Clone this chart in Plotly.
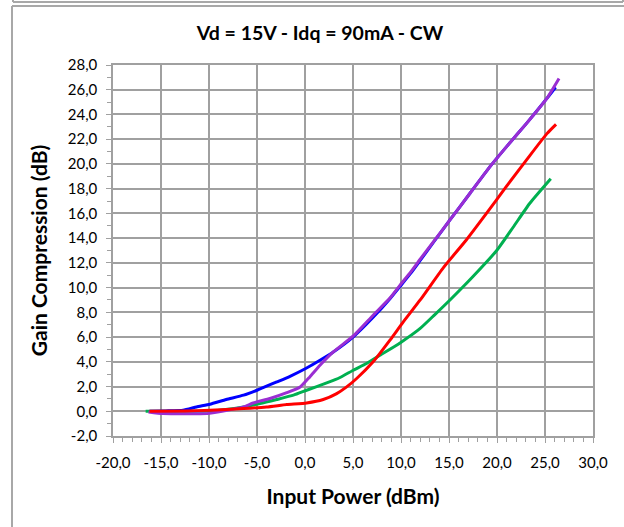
import plotly.graph_objects as go

# Gain compression vs input power, four measured curves
blue_x = [-16.2, -14.5, -12.7, -11.3, -9.9, -8.2, -6.4, -5.0, -2.95, -1.56, 0.07, 1.56, 2.95,
          5.0, 7.1, 8.85, 9.9, 11.0, 12.0, 13.37, 15.1, 17.19, 19.27, 21.0, 23.1, 25.2, 26.1]
blue_y = [0.0, 0.03, 0.08, 0.35, 0.57, 0.95, 1.3, 1.7, 2.37, 2.83, 3.46, 4.13, 4.8,
          6.0, 7.6, 9.1, 10.1, 11.15, 12.2, 13.65, 15.47, 17.63, 19.78, 21.4, 23.3, 25.3, 26.2]

purple_x = [-16.3, -14.8, -12.5, -10.2, -8.5, -6.4, -5.4, -3.65, -1.9, -0.5, 0.5, 1.56, 2.95,
            5.0, 7.1, 8.85, 9.9, 11.0, 12.0, 13.37, 15.1, 17.19, 19.27, 21.0, 23.1, 25.2, 26.46]
purple_y = [-0.05, -0.19, -0.2, -0.19, 0.02, 0.35, 0.67, 1.03, 1.5, 1.97, 2.78, 3.72, 4.8,
            6.07, 7.77, 9.15, 10.2, 11.25, 12.3, 13.7, 15.47, 17.63, 19.78, 21.4, 23.3, 25.3, 26.9]

red_x = [-16.2, -12.5, -9.9, -6.4, -4.0, -1.9, 0.17, 1.9, 3.3, 4.34, 5.38, 7.1, 8.85,
         10.24, 12.0, 14.4, 16.8, 18.9, 21.0, 23.1, 25.2, 26.15]
red_y = [0.0, 0.03, 0.08, 0.22, 0.35, 0.54, 0.67, 0.95, 1.43, 1.97, 2.65, 4.0, 5.75,
         7.23, 9.0, 11.6, 13.85, 16.0, 18.2, 20.35, 22.45, 23.2]

green_x = [-16.6, -12.5, -9.9, -6.4, -4.7, -2.95, -1.2, 0.17, 2.26, 3.65, 5.03, 6.4, 7.8,
           9.9, 12.0, 13.5, 15.1, 17.5, 19.97, 21.7, 23.4, 25.6]
green_y = [0.0, 0.0, 0.02, 0.35, 0.62, 0.95, 1.3, 1.7, 2.29, 2.73, 3.32, 3.86, 4.53,
           5.53, 6.7, 7.8, 9.0, 10.9, 13.0, 14.9, 16.8, 18.8]

x_ticks = [-20, -15, -10, -5, 0, 5, 10, 15, 20, 25, 30]
x_labels = ["-20,0", "-15,0", "-10,0", "-5,0", "0,0", "5,0", "10,0", "15,0", "20,0", "25,0", "30,0"]
y_ticks = list(range(-2, 29, 2))
y_labels = [f"{v},0" for v in y_ticks]

W, H = 624, 527
L, R, T, B = 113, 593, 65, 436

fig = go.Figure()
series = [
    (green_x, green_y, "#00B050"),
    (blue_x, blue_y, "#0000FF"),
    (purple_x, purple_y, "#9A2ED2"),
    (red_x, red_y, "#FF0000"),
]
for xs, ys, col in series:
    fig.add_trace(go.Scatter(x=xs, y=ys, mode="lines",
                             line=dict(color=col, width=3, shape="spline", smoothing=0.5),
                             showlegend=False, hoverinfo="skip"))

grid = "#A0A0A0"
font_family = "Lato, 'Open Sans', sans-serif"


def px_x(p):
    return (p - L) / (R - L)


def px_y(p):
    return (B - p) / (B - T)


border = "#A8A8A8"
shapes = [
    # chart frame
    dict(type="line", xref="paper", yref="paper", x0=px_x(12), x1=px_x(12),
         y0=px_y(6), y1=px_y(540), line=dict(color=border, width=2)),
    dict(type="line", xref="paper", yref="paper", x0=px_x(12), x1=px_x(640),
         y0=px_y(6), y1=px_y(6), line=dict(color=border, width=2)),
    # frame of the chart above
    dict(type="line", xref="paper", yref="paper", x0=px_x(13), x1=px_x(623),
         y0=px_y(2), y1=px_y(2), line=dict(color=border, width=2)),
    dict(type="line", xref="paper", yref="paper", x0=px_x(13), x1=px_x(13),
         y0=px_y(-5), y1=px_y(2), line=dict(color=border, width=2)),
    dict(type="line", xref="paper", yref="paper", x0=px_x(623), x1=px_x(623),
         y0=px_y(-5), y1=px_y(2), line=dict(color=border, width=2)),
]

fig.update_layout(
    width=W, height=H,
    margin=dict(l=L, r=W - R, t=T, b=H - B),
    paper_bgcolor="white", plot_bgcolor="white",
    font=dict(family=font_family, color="#000000"),
    title=dict(text="<b>Vd = 15V - Idq = 90mA - CW</b>", x=(320) / W, xanchor="center",
               y=1 - 33 / H, yanchor="middle", font=dict(size=19.5)),
    shapes=shapes,
    showlegend=False,
)

fig.update_xaxes(
    range=[-20, 30], tickmode="array", tickvals=x_ticks, ticktext=x_labels,
    showgrid=True, gridcolor=grid, gridwidth=1.5, zeroline=False,
    showline=True, linecolor=grid, linewidth=1.5, mirror=True,
    ticks="outside", ticklen=5, tickcolor=grid, tickwidth=1,
    minor=dict(tickmode="linear", tick0=-20, dtick=1, ticks="outside", ticklen=4,
               tickcolor=grid, showgrid=False),
    tickfont=dict(size=15), ticklabelstandoff=7,
    title=dict(text="<b>Input Power (dBm)</b>", font=dict(size=21), standoff=20),
)
fig.update_yaxes(
    range=[-2, 28], tickmode="array", tickvals=y_ticks, ticktext=y_labels,
    showgrid=True, gridcolor=grid, gridwidth=1.5, zeroline=False,
    showline=True, linecolor=grid, linewidth=1.5, mirror=True,
    ticks="outside", ticklen=5, tickcolor=grid, tickwidth=1,
    minor=dict(tickmode="linear", tick0=-2, dtick=1, ticks="outside", ticklen=4,
               tickcolor=grid, showgrid=False),
    tickfont=dict(size=15), ticklabelstandoff=6,
    title=dict(text="<b>Gain Compression (dB)</b>", font=dict(size=21), standoff=14),
)

fig.write_html("out.html")
